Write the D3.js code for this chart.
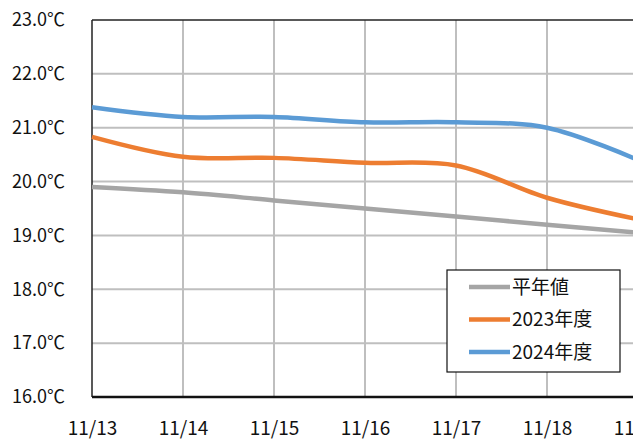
<!DOCTYPE html>
<html>
<head>
<meta charset="utf-8">
<script src="https://cdn.jsdelivr.net/npm/d3@7"></script>
<style>
  body { margin: 0; background: #fff; }
  svg { display: block; font-family: "Noto Sans CJK JP", "Liberation Sans", sans-serif; }
</style>
</head>
<body>
<script>
// dates shown on the x axis
var dates = ["11/13", "11/14", "11/15", "11/16", "11/17", "11/18", "11/19"];
// series values (°C)
var normal = [19.9, 19.8, 19.65, 19.5, 19.35, 19.2, 19.05];
var y2023 = [20.83, 20.46, 20.44, 20.35, 20.3, 19.7, 19.3];
var y2024 = [21.38, 21.2, 21.2, 21.1, 21.1, 21.0, 20.4];
var yTicks = [16, 17, 18, 19, 20, 21, 22, 23];
var seriesNames = ["平年値", "2023年度", "2024年度"];
var seriesColors = ["#a5a5a5", "#ed7d31", "#5b9bd5"];

var W = 633, H = 440;
var plotL = 92, plotT = 20, plotB = 397, plotR = 638;

var svg = d3.select("body").append("svg")
    .attr("width", W)
    .attr("height", H);

var x = d3.scalePoint().domain(dates).range([plotL, plotR]);
var y = d3.scaleLinear().domain([16, 23]).range([plotB, plotT]);

// horizontal grid
svg.append("g")
    .selectAll("line")
    .data(yTicks.filter(function (d) { return d > 16 && d < 23; }))
    .enter().append("line")
    .attr("x1", plotL).attr("x2", W + 10)
    .attr("y1", function (d) { return y(d); })
    .attr("y2", function (d) { return y(d); })
    .attr("stroke", "#bfbfbf").attr("stroke-width", 2);

// vertical grid
svg.append("g")
    .selectAll("line")
    .data(dates.slice(1))
    .enter().append("line")
    .attr("x1", function (d) { return x(d); })
    .attr("x2", function (d) { return x(d); })
    .attr("y1", plotT).attr("y2", plotB)
    .attr("stroke", "#bfbfbf").attr("stroke-width", 2);

// frame
svg.append("line").attr("x1", plotL).attr("x2", W + 10).attr("y1", y(23)).attr("y2", y(23))
    .attr("stroke", "#222").attr("stroke-width", 1.5);
svg.append("line").attr("x1", plotL).attr("x2", plotL).attr("y1", plotT).attr("y2", plotB)
    .attr("stroke", "#222").attr("stroke-width", 1.5);

// lines
var line = d3.line()
    .x(function (d, i) { return x(dates[i]); })
    .y(function (d) { return y(d); })
    .curve(d3.curveCatmullRom.alpha(0.5));

[normal, y2023, y2024].forEach(function (s, i) {
  svg.append("path")
      .datum(s)
      .attr("d", line)
      .attr("fill", "none")
      .attr("stroke", seriesColors[i])
      .attr("stroke-width", 4.5)
      .attr("stroke-linejoin", "round");
});

svg.append("line").attr("x1", plotL).attr("x2", W + 10).attr("y1", plotB).attr("y2", plotB)
    .attr("stroke", "#111").attr("stroke-width", 2.5);

// y axis labels
var yAxis = d3.axisLeft(y)
    .tickValues(yTicks)
    .tickSize(0)
    .tickPadding(27)
    .tickFormat(function (d) { return d.toFixed(1) + "℃"; });
var gy = svg.append("g").attr("transform", "translate(" + plotL + ",0)").call(yAxis);
gy.select(".domain").remove();
gy.selectAll("text").attr("font-size", 18).attr("fill", "#111")
    .attr("font-family", "Noto Sans CJK JP, sans-serif");

// x axis labels
var xAxis = d3.axisBottom(x).tickSize(0).tickPadding(25);
var gx = svg.append("g").attr("transform", "translate(0," + plotB + ")").call(xAxis);
gx.select(".domain").remove();
gx.selectAll("text").attr("font-size", 19).attr("fill", "#111")
    .attr("font-family", "Noto Sans CJK JP, sans-serif");

// legend
var lg = svg.append("g").attr("transform", "translate(447,270)");
lg.append("rect").attr("width", 173).attr("height", 102)
    .attr("fill", "#fff").attr("stroke", "#111").attr("stroke-width", 1.2);
var items = lg.selectAll("g.item").data(seriesNames).enter().append("g")
    .attr("transform", function (d, i) { return "translate(0," + (17 + i * 32.5) + ")"; });
items.append("line").attr("x1", 22).attr("x2", 63).attr("y1", 0).attr("y2", 0)
    .attr("stroke", function (d, i) { return seriesColors[i]; })
    .attr("stroke-width", 4.5);
items.append("text").attr("x", 65).attr("y", 0).attr("dy", "0.35em")
    .attr("font-size", 19).attr("fill", "#111")
    .text(function (d) { return d; });
</script>
</body>
</html>
